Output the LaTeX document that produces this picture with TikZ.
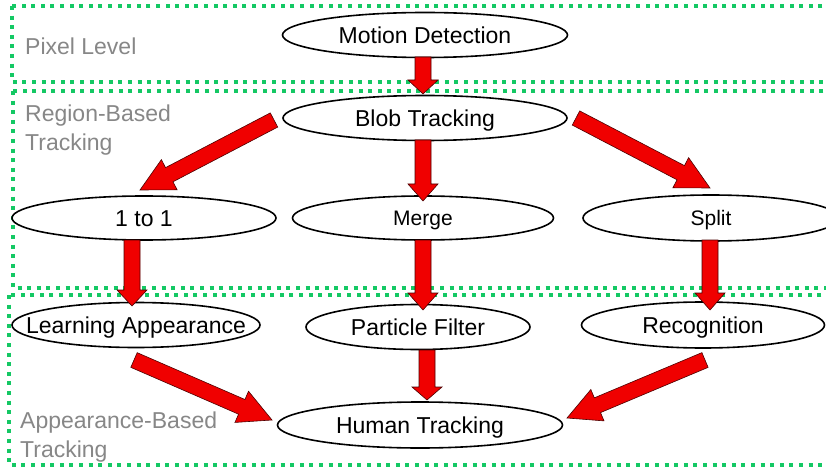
\documentclass[tikz,border=0pt]{standalone}
\usepackage{fontspec}
\setmainfont{Liberation Sans}
\usetikzlibrary{calc,shapes.geometric}
\definecolor{boxgreen}{RGB}{20,200,100}
\definecolor{arrred}{RGB}{240,0,0}
\definecolor{lblgray}{RGB}{135,135,135}
\tikzset{
  stage/.style={draw=boxgreen, line width=3.6pt, dash pattern=on 4pt off 5.6pt},
  ovalline/.style={draw=black, line width=1.6pt, fill=white},
  ovaltext/.style={inner sep=0pt, text height=16.5pt, text depth=0pt,
     font=\fontsize{23}{27}\selectfont},
  smalltext/.style={ovaltext, text height=15pt, font=\fontsize{21}{25}\selectfont},
  lvl/.style={text=lblgray, font=\fontsize{23}{29}\selectfont, inner sep=0pt, anchor=base west},
  blockarrow/.style={fill=arrred, draw=black!70!red, line width=0.6pt, line join=miter},
}
% #1 name, #2 centre, #3 width, #4 height, #5 text style, #6 text
\newcommand{\ovalnode}[6]{%
  \draw[ovalline] #2 ellipse [x radius=#3/2, y radius=#4/2];
  \node[#5] (#1) at #2 {#6};}
% #1 start, #2 tip, #3 head length, #4 head half width, shaft half width 8pt
\newcommand{\blockarr}[4]{%
  \draw[blockarrow] let \p1=($(#2)-(#1)$), \n1={atan2(\y1,\x1)}, \n2={veclen(\x1,\y1)} in
    ($(#1)+(\n1+90:8pt)$) -- ++(\n1:\n2-#3) -- ++(\n1+90:#4-8pt) -- (#2)
    -- ($(#2)+(\n1+180:#3)+(\n1-90:#4)$) -- ++(\n1+90:#4-8pt) -- ($(#1)+(\n1-90:8pt)$) -- cycle;}
\begin{document}
\begin{tikzpicture}[x=1pt,y=-1pt]
\useasboundingbox (0,0) rectangle (826,470);
\clip (0,0) rectangle (826,470);
\fill[white] (0,0) rectangle (826,470);
% stage boxes
\draw[stage] (12,6) rectangle (850,82);
\draw[stage] (13,91) rectangle (850,288);
\draw[stage] (9,295) rectangle (850,465);
% level labels
\node[lvl] (l1) at (25,55) {Pixel Level};
\node[lvl] (l2) at (25,122) {Region-Based};
\node[lvl] (l2b) at (25,151) {Tracking};
\node[lvl] (l3) at (20,428) {Appearance-Based};
\node[lvl] (l3b) at (20,457) {Tracking};
% nodes
\ovalnode{md}{(425,35)}{285pt}{45pt}{ovaltext}{Motion Detection}
\ovalnode{bt}{(425,118)}{284pt}{45pt}{ovaltext}{Blob Tracking}
\ovalnode{one}{(144,218)}{264pt}{44pt}{ovaltext}{1 to 1}
\ovalnode{mg}{(423,218)}{261pt}{44pt}{smalltext}{Merge}
\ovalnode{sp}{(711,218)}{256pt}{46pt}{smalltext}{Split}
\ovalnode{la}{(136,325)}{248pt}{45pt}{ovaltext}{Learning Appearance}
\ovalnode{pf}{(418,327)}{224pt}{45pt}{ovaltext}{Particle Filter}
\ovalnode{rc}{(703,325)}{243pt}{46pt}{ovaltext}{Recognition}
\ovalnode{ht}{(420,425)}{285pt}{46pt}{ovaltext}{Human Tracking}
% arrow end points
\coordinate (a1s) at (423,57);  \coordinate (a1t) at (423,94);
\coordinate (a2s) at (423,140); \coordinate (a2t) at (423,201);
\coordinate (a3s) at (274,120); \coordinate (a3t) at (140,190);
\coordinate (a4s) at (576,118); \coordinate (a4t) at (710,188);
\coordinate (a5s) at (132,240); \coordinate (a5t) at (132,306);
\coordinate (a6s) at (423,240); \coordinate (a6t) at (423,310);
\coordinate (a7s) at (710,240); \coordinate (a7t) at (710,310);
\coordinate (a8s) at (134,360); \coordinate (a8t) at (272,420);
\coordinate (a9s) at (427,350); \coordinate (a9t) at (427,400);
\coordinate (a10s) at (705,360); \coordinate (a10t) at (567,418);
% arrows
\blockarr{a1s}{a1t}{14pt}{15pt}
\blockarr{a2s}{a2t}{17pt}{15pt}
\blockarr{a3s}{a3t}{33pt}{17pt}
\blockarr{a4s}{a4t}{33pt}{17pt}
\blockarr{a5s}{a5t}{16pt}{15pt}
\blockarr{a6s}{a6t}{17pt}{15pt}
\blockarr{a7s}{a7t}{17pt}{15pt}
\blockarr{a8s}{a8t}{33pt}{17pt}
\blockarr{a9s}{a9t}{13pt}{15pt}
\blockarr{a10s}{a10t}{33pt}{17pt}
\end{tikzpicture}
\end{document}
